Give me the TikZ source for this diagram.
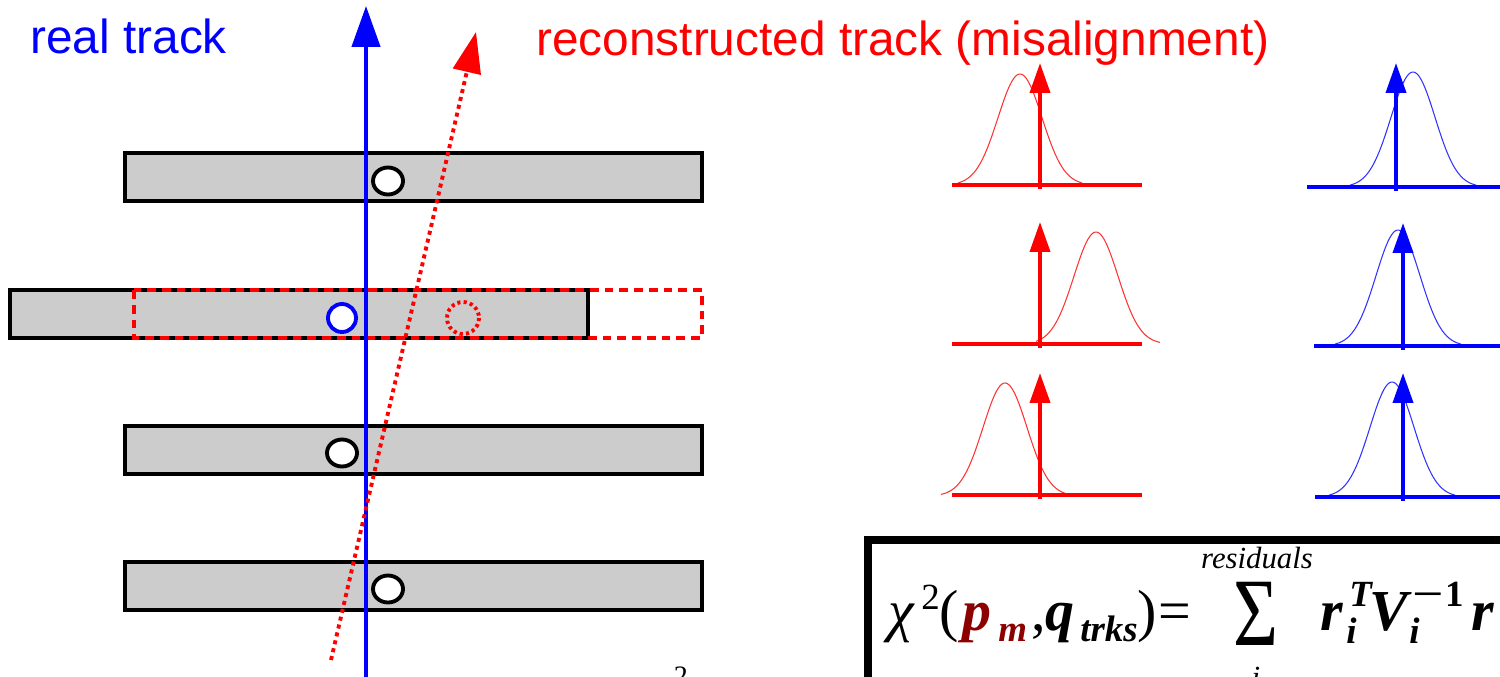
\documentclass[tikz,border=0pt]{standalone}
\usepackage{fontspec}
\setmainfont{Liberation Serif}
\newfontfamily\sansfnt{Liberation Sans}
\usetikzlibrary{arrows.meta}
\definecolor{bargray}{RGB}{204,204,204}
\definecolor{pdark}{RGB}{140,0,0}
\definecolor{gblue}{RGB}{50,50,255}
\definecolor{gred}{RGB}{255,50,50}
\begin{document}
\begin{tikzpicture}[x=0.02cm,y=-0.02cm,
  bar/.style={draw=black,line width=2.2pt,fill=bargray},
  hit/.style={draw=black,line width=2.2pt,fill=white},
  bigtip/.style={-{Triangle[length=23.2pt,width=15.9pt]}},
  smalltip/.style={-{Triangle[length=17pt,width=11.3pt]}},
  gcurveR/.style={gred,line width=0.6pt},
  gcurveB/.style={gblue,line width=0.6pt},
  baseR/.style={red,line width=2.5pt},
  baseB/.style={blue,line width=2.5pt},
  arrR/.style={red,line width=2.3pt,smalltip},
  arrB/.style={blue,line width=2.3pt,smalltip},
  lbl/.style={anchor=base west,inner sep=0pt,font=\sansfnt\fontsize{27.2}{30}\selectfont},
  fm/.style={anchor=base west,inner sep=0pt,font=\fontsize{33}{36}\selectfont},
  fs/.style={anchor=base west,inner sep=0pt,font=\fontsize{21}{24}\selectfont},
  fsm/.style={anchor=base,inner sep=0pt,font=\fontsize{17.5}{20}\selectfont\itshape}
]
\useasboundingbox (0,0) rectangle (1500,676);
\clip (0,0) rectangle (1500,676);
\fill[white] (0,0) rectangle (1500,676);

% labels
\node[lbl,blue] (real) at (30,53) {real track};
\node[lbl,red] (reco) at (536,55) {reconstructed track (misalignment)};

% detector bars
\draw[bar] (125,153) rectangle (702,201);
\draw[bar] (10,290) rectangle (588,338);
\draw[bar] (125,426) rectangle (702,474);
\draw[bar] (125,562) rectangle (702,610);
\draw[red,line width=2.2pt,dash pattern=on 5pt off 3.4pt] (134,290) rectangle (702,338);

% hits
\draw[hit] (388,181) ellipse [x radius=15,y radius=13.5];
\draw[blue,line width=2.2pt,fill=white] (342,318) ellipse [x radius=14,y radius=14];
\draw[red,line width=2.2pt,dash pattern=on 1.8pt off 1.8pt] (463,318) circle [radius=16];
\draw[hit] (342,453) ellipse [x radius=15,y radius=13.5];
\draw[hit] (388,589) ellipse [x radius=15,y radius=13.5];

% tracks
\coordinate (realS) at (366,690);
\coordinate (realE) at (366,6);
\coordinate (recoS) at (331,660);
\coordinate (recoE) at (476,32);
\draw[blue,line width=2.3pt,bigtip] (realS) -- (realE);
\draw[red,line width=2.2pt,dash pattern=on 2.3pt off 2.3pt,bigtip] (recoS) -- (recoE);

% red residual distributions
\draw[gcurveR] plot[domain=958:1082,samples=70] (\x,{185-111*exp(-((\x-1020)^2)/968)});
\draw[baseR] (952,185) -- (1142,185);
\draw[arrR] (1040,189) -- (1040,63);

\draw[gcurveR] plot[domain=1036:1160,samples=70] (\x,{344-112*exp(-((\x-1096)^2)/968)});
\draw[baseR] (952,344) -- (1142,344);
\draw[arrR] (1040,348) -- (1040,222);

\draw[gcurveR] plot[domain=941:1068,samples=70] (\x,{496-113*exp(-((\x-1005)^2)/968)});
\draw[baseR] (952,495) -- (1142,495);
\draw[arrR] (1040,499) -- (1040,373);

% blue residual distributions
\draw[gcurveB] plot[domain=1350:1476,samples=70] (\x,{187-115*exp(-((\x-1413)^2)/968)});
\draw[baseB] (1307,187) -- (1500,187);
\draw[arrB] (1396,191) -- (1396,63);

\draw[gcurveB] plot[domain=1335:1461,samples=70] (\x,{346-116*exp(-((\x-1398)^2)/968)});
\draw[baseB] (1314,346) -- (1500,346);
\draw[arrB] (1403,350) -- (1403,223);

\draw[gcurveB] plot[domain=1329:1455,samples=70] (\x,{497-115*exp(-((\x-1392)^2)/968)});
\draw[baseB] (1315,497) -- (1500,497);
\draw[arrB] (1403,501) -- (1403,373);

% partial formula at bottom
\node[anchor=north,inner sep=0pt,font=\fontsize{16}{18}\selectfont] (twob) at (681,667) {2};

% chi2 box
\draw[line width=4pt] (868,540) rectangle (1540,720);
\node[fm] (chi) at (888,630) {\itshape χ};
\node[fs] (two) at (921,609) {2};
\node[fm] (lp) at (939,630) {(};
\node[fm,pdark] (p) at (962,630) {\bfseries\itshape p};
\node[fs,pdark] (m) at (998,641) {\bfseries\itshape m};
\node[fm] (comma) at (1031,630) {,};
\node[fm] (q) at (1045,630) {\bfseries\itshape q};
\node[fs] (trks) at (1080,641) {\bfseries\itshape trks};
\node[fm] (rp) at (1137,630) {)};
\node[fm] (eq) at (1158,630) {=};
\node[fsm] (res) at (1257,568) {residuals};
\node[anchor=base,inner sep=0pt,font=\fontsize{55}{60}\selectfont] (sig) at (1256,645) {\scalebox{0.8}[1]{Σ}};
\node[fsm] (isum) at (1256,687) {i};
\node[fm] (r1) at (1320,630) {\bfseries\itshape r};
\node[fs] (i1) at (1346,643) {\bfseries\itshape i};
\node[fs] (T) at (1349,606) {\bfseries\itshape T};
\node[fm] (V) at (1369,630) {\bfseries\itshape V};
\node[fs] (i2) at (1409,643) {\bfseries\itshape i};
\node[fs] (minus1) at (1412,606) {\bfseries\scalebox{1.5}[1]{−}\hspace{1pt}1};
\node[fm] (r2) at (1471,630) {\bfseries\itshape r};
\end{tikzpicture}
\end{document}
